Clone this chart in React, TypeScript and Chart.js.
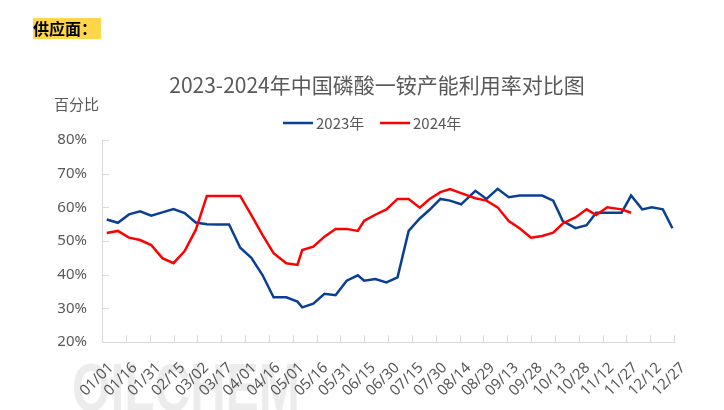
import React, { useEffect, useRef } from "react";
import { Chart, registerables } from "chart.js";

Chart.register(...registerables);

// ---- data ----
const sectionLabel = "供应面：";
const chartTitle = "2023-2024年中国磷酸一铵产能利用率对比图";
const unitLabel = "百分比";
const seriesNames = ["2023年", "2024年"];

const dates = [
  "01/04", "01/11", "01/18", "01/25", "02/01", "02/08", "02/15", "02/22",
  "03/01", "03/08", "03/15", "03/22", "03/29", "04/05", "04/12", "04/19",
  "04/27", "05/04", "05/07", "05/14", "05/21", "05/28", "06/04", "06/11",
  "06/15", "06/22", "06/29", "07/06", "07/13", "07/20", "07/26", "08/02",
  "08/08", "08/15", "08/24", "08/31", "09/07", "09/14", "09/21", "09/28",
  "10/05", "10/12", "10/18", "10/26", "11/02", "11/08", "11/15", "11/24",
  "11/30", "12/07", "12/13", "12/20", "12/26",
];

const values2023 = [
  56.4, 55.4, 57.9, 58.8, 57.5, 58.5, 59.5, 58.3,
  55.5, 55.0, 54.9, 54.9, 48.0, 45.0, 39.9, 33.3,
  33.3, 32.0, 30.3, 31.4, 34.3, 33.9, 38.2, 39.8,
  38.2, 38.7, 37.7, 39.2, 53.0, 56.7, 59.2, 62.5,
  62.0, 60.9, 64.9, 62.5, 65.5, 63.0, 63.5, 63.5,
  63.5, 62.0, 55.9, 53.8, 54.7, 58.4, 58.4, 58.4,
  63.5, 59.4, 60.0, 59.4, 53.8,
];

const values2024 = [
  52.4, 53.0, 51.0, 50.3, 48.8, 44.9, 43.4, 47.0,
  53.3, 63.4, 63.4, 63.4, 63.4, 57.7, 51.8, 46.4,
  43.4, 42.9, 47.3, 48.3, 51.3, 53.6, 53.6, 53.0,
  56.0, 57.8, 59.4, 62.5, 62.5, 59.9, 62.4, 64.5,
  65.4, 64.2, 62.7, 62.0, 60.0, 55.9, 53.7, 51.0,
  51.5, 52.5, 55.2, 57.0, 59.4, 57.7, 60.0, 59.4,
  58.4,
];

const tickLabels = [
  "01/01", "01/16", "01/31", "02/15", "03/02", "03/17", "04/01", "04/16",
  "05/01", "05/16", "05/31", "06/15", "06/30", "07/15", "07/30", "08/14",
  "08/29", "09/13", "09/28", "10/13", "10/28", "11/12", "11/27", "12/12",
  "12/27",
];

const yMin = 20;
const yMax = 80;
const yStep = 10;

// ---- styles ----
const BLUE = "#0b3f93";
const RED = "#ff0000";
const AXIS = "#d9d9d9";
const TEXT = "#595959";
const FONT = '"Noto Sans CJK SC", "Noto Sans", sans-serif';
const TICK_FONT = '"Noto Sans", "Noto Sans CJK SC", sans-serif';

const MONTH_START = [0, 31, 59, 90, 120, 151, 181, 212, 243, 273, 304, 334];
function dayOfYear(mmdd: string): number {
  const [m, d] = mmdd.split("/").map(Number);
  return MONTH_START[m - 1] + d - 1;
}

const decorPlugin = {
  id: "decor",
  beforeDraw(chart: any) {
    const ctx = chart.ctx;
    ctx.save();
    // faint watermark
    ctx.font = 'bold 68px "Liberation Sans Narrow", "Liberation Sans", sans-serif';
    const text = "OILCHEM";
    const w = ctx.measureText(text).width;
    ctx.translate(72, 411);
    ctx.scale(228 / w, 1);
    ctx.fillStyle = "rgba(0,0,0,0.075)";
    ctx.textBaseline = "alphabetic";
    ctx.textAlign = "left";
    ctx.fillText(text, 0, 0);
    ctx.restore();
  },
  afterDraw(chart: any) {
    const { ctx, chartArea } = chart;
    const xs = chart.scales.x;
    const ys = chart.scales.y;
    ctx.save();
    // inward tick marks
    ctx.strokeStyle = AXIS;
    ctx.lineWidth = 1;
    ctx.beginPath();
    xs.ticks.forEach((t: any) => {
      const px = Math.round(xs.getPixelForValue(t.value)) + 0.5;
      ctx.moveTo(px, chartArea.bottom);
      ctx.lineTo(px, chartArea.bottom - 7);
    });
    ys.ticks.forEach((t: any) => {
      const py = Math.round(ys.getPixelForValue(t.value)) + 0.5;
      ctx.moveTo(chartArea.left, py);
      ctx.lineTo(chartArea.left + 7, py);
    });
    ctx.stroke();

    // title
    ctx.fillStyle = TEXT;
    ctx.font = "21px " + FONT;
    ctx.textAlign = "center";
    ctx.textBaseline = "middle";
    ctx.fillText(chartTitle, 377, 85);

    // unit label
    ctx.font = "15px " + FONT;
    ctx.textAlign = "right";
    ctx.fillText(unitLabel, 99, 104);

    // legend
    const items = chart.data.datasets;
    const starts = [283, 380];
    ctx.font = "15px " + FONT;
    ctx.textAlign = "left";
    items.forEach((ds: any, i: number) => {
      const x0 = starts[i];
      ctx.strokeStyle = ds.borderColor;
      ctx.lineWidth = 2.5;
      ctx.beginPath();
      ctx.moveTo(x0, 123);
      ctx.lineTo(x0 + 30, 123);
      ctx.stroke();
      ctx.fillStyle = TEXT;
      ctx.fillText(ds.label, x0 + 33, 123);
    });
    ctx.restore();
  },
};

export default function App() {
  const canvasRef = useRef<HTMLCanvasElement | null>(null);

  useEffect(() => {
    if (!canvasRef.current) return;
    const tickDays = tickLabels.map(dayOfYear);
    const chart = new Chart(canvasRef.current, {
      type: "line",
      data: {
        datasets: [
          {
            label: seriesNames[0],
            data: values2023.map((v, i) => ({ x: dayOfYear(dates[i]), y: v })),
            borderColor: BLUE,
            backgroundColor: BLUE,
            borderWidth: 2.5,
            pointRadius: 0,
            tension: 0,
            order: 1,
          },
          {
            label: seriesNames[1],
            data: values2024.map((v, i) => ({ x: dayOfYear(dates[i]), y: v })),
            borderColor: RED,
            backgroundColor: RED,
            borderWidth: 2.5,
            pointRadius: 0,
            tension: 0,
            order: 0,
          },
        ],
      },
      options: {
        responsive: false,
        animation: false,
        events: [],
        layout: { padding: { top: 140, left: 0, right: 50, bottom: 0 } },
        plugins: {
          legend: { display: false },
          title: { display: false },
          tooltip: { enabled: false },
        },
        scales: {
          x: {
            type: "linear",
            min: tickDays[0],
            max: tickDays[tickDays.length - 1],
            afterBuildTicks: (scale: any) => {
              scale.ticks = tickDays.map((d) => ({ value: d }));
            },
            afterFit: (scale: any) => {
              scale.height = 68;
            },
            grid: { display: false, drawTicks: false },
            border: { display: true, color: AXIS, width: 1 },
            ticks: {
              autoSkip: false,
              maxRotation: 45,
              minRotation: 45,
              padding: 17,
              labelOffset: 9,
              color: TEXT,
              font: { family: TICK_FONT, size: 15 },
              callback: (v: any) => {
                const idx = tickDays.indexOf(Number(v));
                return idx >= 0 ? tickLabels[idx] : "";
              },
            },
          },
          y: {
            min: yMin,
            max: yMax,
            afterFit: (scale: any) => {
              scale.width = 102;
            },
            grid: { display: false, drawTicks: false },
            border: { display: true, color: AXIS, width: 1 },
            ticks: {
              stepSize: yStep,
              padding: 15,
              color: TEXT,
              font: { family: TICK_FONT, size: 15 },
              callback: (v: any) => v + "%",
            },
          },
        },
      },
      plugins: [decorPlugin],
    });
    return () => chart.destroy();
  }, []);

  return (
    <div
      style={{
        position: "absolute",
        left: 0,
        top: 0,
        width: 724,
        height: 410,
        background: "#ffffff",
        overflow: "hidden",
      }}
    >
      <canvas
        ref={canvasRef}
        width={724}
        height={410}
        style={{ display: "block", width: 724, height: 410 }}
      />
      <div
        style={{
          position: "absolute",
          left: 33,
          top: 18,
          width: 68,
          height: 21,
          background: "#ffd64b",
          color: "#000000",
          fontFamily: FONT,
          fontWeight: "bold",
          fontSize: 16,
          lineHeight: "21px",
          whiteSpace: "nowrap",
        }}
      >
        {sectionLabel}
      </div>
    </div>
  );
}
